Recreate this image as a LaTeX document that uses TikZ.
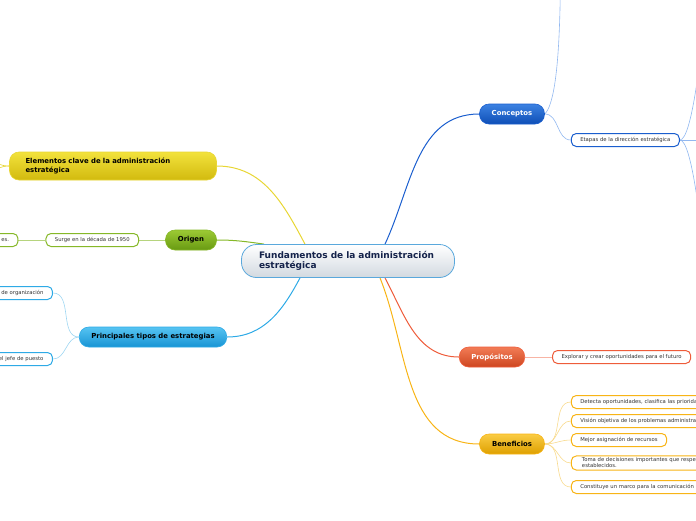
\documentclass[tikz,border=0pt]{standalone}
\usepackage{fontspec}
\setmainfont{DejaVu Sans}
\usepackage{tikz}
\usetikzlibrary{positioning, backgrounds}

\definecolor{rootline}{HTML}{5AA8DC}
\definecolor{rootbot}{HTML}{D2D9E0}
\definecolor{rootfont}{HTML}{14224A}
\definecolor{leaffont}{HTML}{333333}
\definecolor{ylwtop}{HTML}{F2E23C}
\definecolor{ylwbot}{HTML}{D2BA0E}
\definecolor{ylwline}{HTML}{E8D634}
\definecolor{grntop}{HTML}{9CCA34}
\definecolor{grnbot}{HTML}{689A12}
\definecolor{grnline}{HTML}{86B828}
\definecolor{cyntop}{HTML}{56C4F2}
\definecolor{cynbot}{HTML}{1894D4}
\definecolor{cynline}{HTML}{2EAAE6}
\definecolor{cyntwig}{HTML}{9ED6F2}
\definecolor{blutop}{HTML}{3C82E2}
\definecolor{blubot}{HTML}{0E4EB6}
\definecolor{bluline}{HTML}{1A5ECE}
\definecolor{blutwig}{HTML}{92B8F0}
\definecolor{redtop}{HTML}{F27C56}
\definecolor{redbot}{HTML}{CE4620}
\definecolor{redline}{HTML}{EE5C3A}
\definecolor{redtwig}{HTML}{F8B4A4}
\definecolor{orgtop}{HTML}{FACC44}
\definecolor{orgbot}{HTML}{DEA000}
\definecolor{orgline}{HTML}{F8B416}
\definecolor{orgtwig}{HTML}{F8DA8C}

\begin{document}
\begin{tikzpicture}[x=1pt, y=-1pt]
        % 定义样式
        \tikzstyle{root} = [draw=rootline, line width=0.8pt, rounded corners=15pt, top color=white, bottom color=rootbot, text=rootfont, font=\fontsize{9}{10.5}\selectfont\bfseries, text width=178pt, align=left, inner xsep=17.5pt, minimum height=33pt]
        \tikzstyle{topic} = [line width=0.6pt, rounded corners=9.5pt, minimum height=20pt, inner xsep=12pt, font=\fontsize{6.9}{8.3}\selectfont\bfseries]
        \tikzstyle{leaf} = [draw, fill=white, line width=1pt, rounded corners=5pt, minimum height=13pt, inner xsep=9pt, inner ysep=2pt, text=leaffont, font=\fontsize{5.3}{6}\selectfont]
        \tikzstyle{cutleaf} = [leaf, text width=60pt, align=right]
        \tikzstyle{branch} = [line width=1pt]
        \tikzstyle{twig} = [line width=0.6pt]

        \useasboundingbox (0,0) rectangle (696,520);
        \clip (0,0) rectangle (696,520);

        % 中心
        \node[root] (fund) at (348,261) {Fundamentos de la administración estratégica};

        % 左侧
        \node[topic, draw=ylwline, top color=ylwtop, bottom color=ylwbot, text width=175pt, align=left, inner xsep=16pt, minimum height=28pt] (elem) at (113,166) {Elementos clave de la administración\\estratégica};
        \node[topic, draw=grnline, top color=grntop, bottom color=grnbot, minimum width=51pt] (origen) at (191,240) {Origen};
        \node[leaf, draw=grnline, left=26pt of origen] (surge) {Surge en la década de 1950};
        \node[cutleaf, draw=grnline, left=27pt of surge] (surgeant) {es.};
        \node[topic, draw=cynline, top color=cyntop, bottom color=cynbot] (princ) at (153,337) {Principales tipos de estrategias};
        \node[cutleaf, draw=cynline, left=26pt of princ, yshift=44pt] (orga) {de organización};
        \node[cutleaf, draw=cynline, left=26pt of princ, yshift=-22pt] (jefe) {el jefe de puesto};

        % 右侧
        \node[topic, draw=bluline, top color=blutop, bottom color=blubot, text=white, minimum width=65pt] (concept) at (512,114) {Conceptos};
        \node[leaf, draw=bluline, right=26pt of concept, yshift=-26pt] (etapas) {Etapas de la dirección estratégica};
        \node[topic, draw=redline, top color=redtop, bottom color=redbot, text=white, minimum width=65pt] (prop) at (492,357) {Propósitos};
        \node[leaf, draw=redline, right=27pt of prop] (explorar) {Explorar y crear oportunidades para el futuro};
        \node[topic, draw=orgline, top color=orgtop, bottom color=orgbot, minimum width=65pt] (benef) at (512,444) {Beneficios};
        \node[leaf, draw=orgline, right=26pt of benef, yshift=42pt] (detecta) {Detecta oportunidades, clasifica las prioridades};
        \node[leaf, draw=orgline, right=26pt of benef, yshift=23pt] (vision) {Visión objetiva de los problemas administrativos};
        \node[leaf, draw=orgline, right=26pt of benef, yshift=4pt] (mejor) {Mejor asignación de recursos};
        \node[leaf, draw=orgline, right=26pt of benef, yshift=-19pt, align=left] (toma) {\ Toma de decisiones importantes que respetan\\\ establecidos.};
        \node[leaf, draw=orgline, right=26pt of benef, yshift=-43pt] (constituye) {Constituye un marco para la comunicación};

        % 延伸到画面外
        \coordinate (elemout1) at (-30,148);
        \coordinate (elemout2) at (-30,186);
        \coordinate (conceptout) at (561,-40);
        \coordinate (etapasout1) at (702,40);
        \coordinate (etapasout2) at (712,140);
        \coordinate (etapasout3) at (702,240);

        % 连线
        \begin{pgfonlayer}{background}
        \draw[branch, ylwline] ([xshift=-43pt]fund.north) to[out=118, in=0] (elem.east);
        \draw[branch, grnline] ([xshift=-84pt]fund.north) to[out=172, in=0] (origen.east);
        \draw[branch, cynline] ([xshift=-48pt]fund.south) to[out=-118, in=0] (princ.east);
        \draw[branch, bluline] ([xshift=37pt]fund.north) to[out=65, in=180] (concept.west);
        \draw[branch, redline] ([xshift=37pt]fund.south) to[out=-62, in=180] (prop.west);
        \draw[branch, orgline] ([xshift=32pt]fund.south) to[out=-68, in=180] (benef.west);

        \draw[twig, ylwline] (elem.west) to[out=180, in=-20] (elemout1);
        \draw[twig, ylwline] (elem.west) to[out=180, in=20] (elemout2);
        \draw[twig, grnline!60] (origen.west) -- (surge.east);
        \draw[twig, grnline!60] (surge.west) -- (surgeant.east);
        \draw[twig, cyntwig] (princ.west) to[out=180, in=0] (orga.east);
        \draw[twig, cyntwig] (princ.west) to[out=180, in=0] (jefe.east);
        \draw[twig, blutwig] (concept.east) to[out=45, in=-93, looseness=0.4] (conceptout);
        \draw[twig, blutwig] (concept.east) to[out=0, in=180] (etapas.west);
        \draw[twig, blutwig] (etapas.east) to[out=0, in=-95, looseness=0.3] (etapasout1);
        \draw[twig, blutwig] (etapas.east) -- (etapasout2);
        \draw[twig, blutwig] (etapas.east) to[out=0, in=95, looseness=0.3] (etapasout3);
        \draw[twig, redtwig] (prop.east) -- (explorar.west);
        \foreach \kid in {detecta, vision, mejor, toma, constituye}
            \draw[twig, orgtwig] (benef.east) to[out=0, in=180] (\kid.west);
        \end{pgfonlayer}
\end{tikzpicture}
\end{document}
